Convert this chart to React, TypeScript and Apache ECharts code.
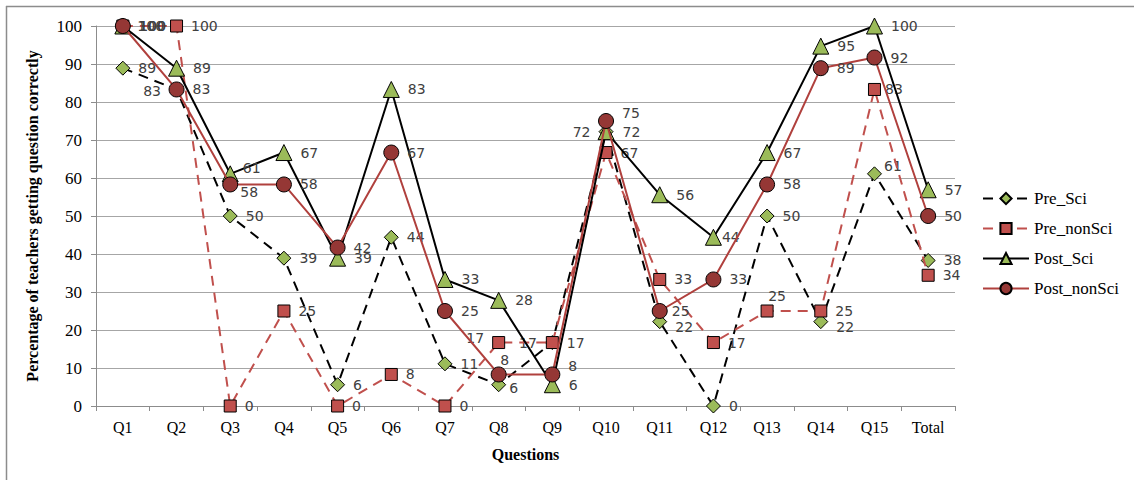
import React, { useEffect, useRef } from "react";
import * as echarts from "echarts";

const categories = ["Q1", "Q2", "Q3", "Q4", "Q5", "Q6", "Q7", "Q8", "Q9", "Q10", "Q11", "Q12", "Q13", "Q14", "Q15", "Total"];
const preSci = [88.9, 83.3, 50, 38.9, 5.6, 44.4, 11.1, 5.6, 16.7, 72.2, 22.2, 0, 50, 22.2, 61.1, 38.3];
const preNonSci = [100, 100, 0, 25, 0, 8.3, 0, 16.7, 16.7, 66.7, 33.3, 16.7, 25, 25, 83.3, 34.4];
const postSci = [100, 88.9, 61.1, 66.7, 38.9, 83.3, 33.3, 27.8, 5.6, 72.2, 55.6, 44.4, 66.7, 94.7, 100, 56.9];
const postNonSci = [100, 83.3, 58.3, 58.3, 41.7, 66.7, 25, 8.3, 8.3, 75, 25, 33.3, 58.3, 88.9, 91.7, 50];

type LabelOverride = { position?: string; offset?: number[]; distance?: number };

const preSciLabels: Record<number, LabelOverride> = {
  1: { position: "left", offset: [0, 2] },
  7: { distance: 3, offset: [0, 3] },
  8: { position: "left", offset: [0, 0] },
  9: { position: "left" },
  10: { offset: [0, 5] },
  13: { offset: [0, 5] },
  14: { distance: 2, offset: [0, -8] },
};
const preNonSciLabels: Record<number, LabelOverride> = {
  7: { position: "left", offset: [0, -5] },
  12: { position: "top", offset: [10, 6] },
  14: { distance: 4 },
};
const postSciLabels: Record<number, LabelOverride> = {
  2: { offset: [0, -6], distance: 4 },
  11: { distance: 0 },
};
const postNonSciLabels: Record<number, LabelOverride> = {
  2: { offset: [-2, 8], distance: 4 },
  7: { position: "top", offset: [6, 9] },
  8: { offset: [0, -8] },
  9: { offset: [0, -8] },
  10: { distance: 4 },
};

function buildData(values: number[], overrides: Record<number, LabelOverride>) {
  return values.map((v, i) => {
    const o = overrides[i];
    if (!o) return v;
    return { value: v, label: { ...o } };
  });
}

const SERIF = "'Liberation Serif', 'Times New Roman', Times, serif";

const labelBase = {
  show: true,
  position: "right",
  distance: 8,
  fontFamily: "'DejaVu Sans', sans-serif",
  fontSize: 14,
  color: "#404040",
  formatter: (p: any) => String(Math.round(p.value)),
};

export default function App() {
  const ref = useRef<HTMLDivElement>(null);
  useEffect(() => {
    if (!ref.current) return;
    const chart = echarts.init(ref.current, null, { renderer: "svg" });
    chart.setOption({
      animation: false,
      backgroundColor: "#ffffff",
      textStyle: { fontFamily: SERIF },
      graphic: [
        { type: "line", shape: { x1: 6, y1: 6.5, x2: 1134, y2: 6.5 }, style: { stroke: "#8c8c8c", lineWidth: 1.5 } },
        { type: "line", shape: { x1: 6.5, y1: 6, x2: 6.5, y2: 480 }, style: { stroke: "#8c8c8c", lineWidth: 1.5 } },
      ],
      grid: { left: 96, right: 179, top: 26, bottom: 74 },
      legend: {
        orient: "vertical",
        left: 977,
        top: 185,
        itemWidth: 46,
        itemHeight: 14,
        itemGap: 13,
        textStyle: { fontFamily: SERIF, fontSize: 17, color: "#000" },
        data: ["Pre_Sci", "Pre_nonSci", "Post_Sci", "Post_nonSci"],
      },
      xAxis: {
        type: "category",
        data: categories,
        boundaryGap: true,
        name: "Questions",
        nameLocation: "middle",
        nameGap: 40,
        nameTextStyle: { fontFamily: SERIF, fontWeight: "bold", fontSize: 16, color: "#000" },
        axisLine: { lineStyle: { color: "#8c8c8c" } },
        axisTick: { show: true, alignWithLabel: false, length: 5, lineStyle: { color: "#8c8c8c" } },
        axisLabel: { fontFamily: SERIF, fontSize: 16, color: "#000", margin: 13 },
      },
      yAxis: {
        type: "value",
        min: 0,
        max: 100,
        interval: 10,
        name: "Percentage of teachers getting question correctly",
        nameLocation: "middle",
        nameGap: 56,
        nameTextStyle: { fontFamily: SERIF, fontWeight: "bold", fontSize: 16, color: "#000" },
        axisLine: { show: true, lineStyle: { color: "#8c8c8c" } },
        axisTick: { show: true, length: 5, lineStyle: { color: "#8c8c8c" } },
        axisLabel: { fontFamily: SERIF, fontSize: 17, color: "#000", margin: 14 },
        splitLine: { lineStyle: { color: "#a6a6a6" } },
      },
      series: [
        {
          name: "Pre_Sci",
          type: "line",
          data: buildData(preSci, preSciLabels),
          symbol: "diamond",
          symbolSize: 14,
          lineStyle: { color: "#000", width: 2, type: [10, 7] },
          itemStyle: { color: "#9BBB59", borderColor: "#000", borderWidth: 1 },
          label: labelBase,
          z: 2,
        },
        {
          name: "Pre_nonSci",
          type: "line",
          data: buildData(preNonSci, preNonSciLabels),
          symbol: "rect",
          symbolSize: 12,
          lineStyle: { color: "#C0504D", width: 2, type: [10, 7] },
          itemStyle: { color: "#C0504D", borderColor: "#000", borderWidth: 1 },
          label: labelBase,
          z: 3,
        },
        {
          name: "Post_Sci",
          type: "line",
          data: buildData(postSci, postSciLabels),
          symbol: "triangle",
          symbolSize: 16,
          lineStyle: { color: "#000", width: 2 },
          itemStyle: { color: "#9BBB59", borderColor: "#000", borderWidth: 1 },
          label: labelBase,
          z: 4,
        },
        {
          name: "Post_nonSci",
          type: "line",
          data: buildData(postNonSci, postNonSciLabels),
          symbol: "circle",
          symbolSize: 15,
          lineStyle: { color: "#B0403D", width: 2 },
          itemStyle: { color: "#953735", borderColor: "#000", borderWidth: 1 },
          label: labelBase,
          z: 5,
        },
      ],
    });
    return () => chart.dispose();
  }, []);
  return (
    <div
      ref={ref}
      style={{ position: "fixed", left: 0, top: 0, width: 1134, height: 480, background: "#fff" }}
    />
  );
}
